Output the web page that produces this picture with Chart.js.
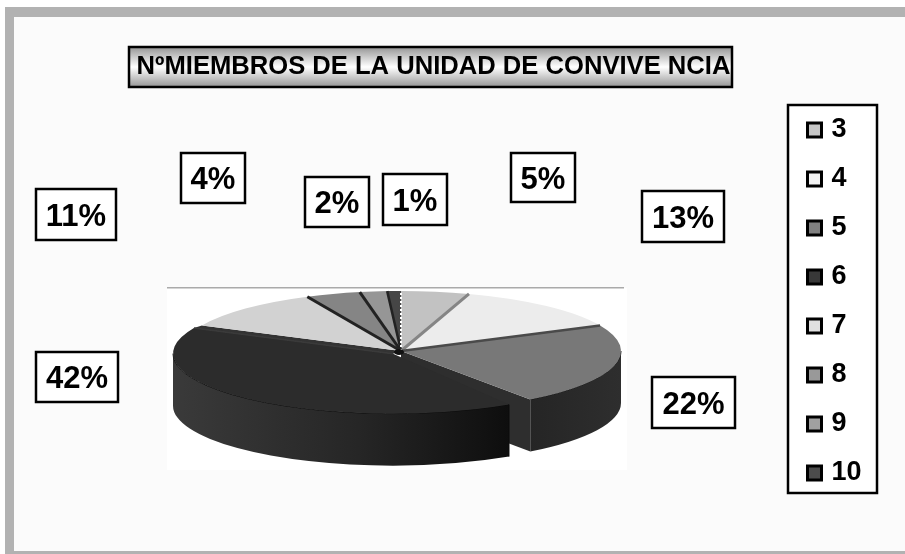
<!DOCTYPE html>
<html><head><meta charset="utf-8">
<style>html,body{margin:0;padding:0;background:#fff}canvas{display:block}</style>
<script src="https://cdn.jsdelivr.net/npm/chart.js@4/dist/chart.umd.js"></script>
</head><body>
<canvas id="c" width="905" height="554"></canvas>
<script>
const CATEGORIES = ['3','4','5','6','7','8','9','10'];
const VALUES = [5,13,22,42,11,4,2,1];
const TITLE = 'NºMIEMBROS DE LA UNIDAD DE CONVIVE NCIA';
const COLORS = ['#c2c2c2','#ececec','#787878','#2c2c2c','#d2d2d2','#858585','#969696','#464646'];
const LEGEND_COLORS = ['#c6c6c6','#f4f4f4','#808080','#383838','#e0e0e0','#999999','#a0a0a0','#4c4c4c'];
const EXPLODE = [0,0,0,0.057,0,0,0,0];
const TRIM_START = [0,0,0,0.073,0,0,0,0];
const SEP_COLOR = ['#858585','#4a4a4a',null,'#3a3a3a','#222222','#222222','#222222','#ffffff'];
const SEP_WIDTH = [3,2.5,0,1.5,3,3,2.5,2];
const LABEL_BOXES = [[511,153,64,49],[642,191,82,51],[652,377,83,51],[36,352,82,50],[36,189,80,51],[181,153,64,50],[305,177,64,50],[383,174,64,51]];
const PIE = {cx:401,cy:351,rx:220,ry:60,depth:52};
const FONT = '"Liberation Sans", Arial, sans-serif';

function shift(i){
  const a = scene.arcs[i]; const mid=(a.startAngle+a.endAngle)/2;
  return {x:Math.cos(mid)*EXPLODE[i]*PIE.rx, y:Math.sin(mid)*EXPLODE[i]*PIE.ry};
}
const scene = {
  id:'scene', arcs:[],
  afterLayout(chart){
    const t = chart.titleBlock, l = chart.legend;
    t.left=131; t.right=736; t.top=52; t.bottom=88; t.width=605;
    l.left=789; l.right=878; l.top=94.5; l.bottom=520; l.width=89;
  },
  beforeDraw(chart){
    const c = chart.ctx;
    c.save();
    c.fillStyle='#ffffff'; c.fillRect(0,0,905,554);
    c.fillStyle='#fbfbfb'; c.fillRect(5,7,900,547);
    c.fillStyle='#b2b2b2';
    c.fillRect(5,7,900,10); c.fillRect(5,7,9,547); c.fillRect(5,551,900,3);
    c.fillStyle='#ffffff'; c.fillRect(167,288,460,182);
    c.fillStyle='#aaaaaa'; c.fillRect(167,287,457,1.5);
    const g=c.createLinearGradient(0,46,0,88);
    g.addColorStop(0,'#909090'); g.addColorStop(.5,'#ffffff'); g.addColorStop(1,'#909090');
    c.fillStyle=g; c.fillRect(129,47,603,40);
    c.strokeStyle='#000'; c.lineWidth=2.5; c.strokeRect(129,47,603,40);
    c.fillStyle='#ffffff'; c.fillRect(788,105,89,388);
    c.lineWidth=2.5; c.strokeRect(788,105,89,388);
    c.restore();
  },
  beforeDatasetDraw(){ return false; },
  beforeDatasetsDraw(chart){
    const c = chart.ctx, arcs = chart.getDatasetMeta(0).data, {cx,cy,rx,ry,depth}=PIE;
    scene.arcs = arcs;
    // walls, rear to front
    arcs.forEach((a,i)=>{
      const s=shift(i), x0=cx+s.x, y0=cy+s.y;
      if (EXPLODE[(i+1)%arcs.length]>0){
        const px=x0+Math.cos(a.endAngle)*rx, py=y0+Math.sin(a.endAngle)*ry;
        c.fillStyle='#2e2e2e'; c.beginPath();
        c.moveTo(x0,y0); c.lineTo(px,py); c.lineTo(px,py+depth); c.lineTo(x0,y0+depth); c.closePath(); c.fill();
      }
      if (EXPLODE[i]>0){
        // dark seam left behind the exploded slice at its far edge
        c.fillStyle='#333333'; c.beginPath();
        c.moveTo(cx,cy); c.lineTo(cx+Math.cos(a.endAngle)*rx,cy+Math.sin(a.endAngle)*ry);
        c.lineTo(x0+Math.cos(a.endAngle)*rx,y0+Math.sin(a.endAngle)*ry); c.lineTo(x0,y0); c.closePath(); c.fill();
      }
      const st=Math.max(a.startAngle+TRIM_START[i],0), en=Math.min(a.endAngle,Math.PI);
      if (en>st){
        const xa=x0+Math.cos(en)*rx, xb=x0+Math.cos(st)*rx;
        const g=c.createLinearGradient(xa,0,xb,0);
        if (EXPLODE[i]>0){ g.addColorStop(0,'#3a3a3a'); g.addColorStop(.55,'#262626'); g.addColorStop(1,'#0e0e0e'); }
        else { g.addColorStop(0,'#252525'); g.addColorStop(1,'#2e2e2e'); }
        c.fillStyle=g; c.beginPath();
        c.ellipse(x0,y0,rx,ry,0,st,en);
        c.ellipse(x0,y0+depth,rx,ry,0,en,st,true);
        c.closePath(); c.fill();
        c.strokeStyle='#0c0c0c'; c.lineWidth=1; c.beginPath();
        c.ellipse(x0,y0,rx,ry,0,st,en); c.stroke();
        if(st>0){ c.beginPath(); c.moveTo(xb,y0+Math.sin(st)*ry); c.lineTo(xb,y0+Math.sin(st)*ry+depth); c.stroke(); }
      }
    });
    // top faces
    arcs.forEach((a,i)=>{
      const s=shift(i), keep=a.startAngle;
      c.save();
      c.translate(cx+s.x,cy+s.y);
      c.scale(rx/a.outerRadius,ry/a.outerRadius);
      c.translate(-a.x,-a.y);
      a.startAngle=keep+TRIM_START[i];
      a.draw(c);
      a.startAngle=keep;
      c.restore();
    });
    // radial seams between faces
    arcs.forEach((a,i)=>{
      if(!SEP_COLOR[i]) return;
      const s=shift(i);
      c.save();
      c.strokeStyle=SEP_COLOR[i]; c.lineWidth=SEP_WIDTH[i];
      if(SEP_COLOR[i]==='#ffffff') c.setLineDash([2,2]);
      c.beginPath(); c.moveTo(cx+s.x,cy+s.y);
      c.lineTo(cx+s.x+Math.cos(a.endAngle)*rx,cy+s.y+Math.sin(a.endAngle)*ry);
      c.stroke(); c.restore();
    });
    c.fillStyle='#111'; c.beginPath(); c.ellipse(cx-2,cy+1,5,3,0,0,Math.PI*2); c.fill();
  },
  afterDatasetsDraw(chart){
    const c=chart.ctx;
    c.save();
    VALUES.forEach((v,i)=>{
      const [x,y,w,h]=LABEL_BOXES[i];
      c.fillStyle='#fff'; c.fillRect(x,y,w,h);
      c.strokeStyle='#000'; c.lineWidth=2.5; c.strokeRect(x,y,w,h);
      c.fillStyle='#000'; c.font='bold 31px '+FONT; c.textAlign='center'; c.textBaseline='middle';
      c.fillText(v+'%',x+w/2,y+h/2+2.5);
    });
    c.restore();
  }
};
new Chart(document.getElementById('c'),{
  type:'pie',
  data:{labels:CATEGORIES,datasets:[{data:VALUES,backgroundColor:COLORS,borderWidth:0}]},
  plugins:[scene],
  options:{
    responsive:false,animation:false,
    layout:{padding:{top:100,bottom:60,left:160,right:10}},
    plugins:{
      tooltip:{enabled:false},
      title:{display:true,text:TITLE,color:'#000',align:'center',padding:0,font:{family:FONT,weight:'bold',size:25.6,lineHeight:1.2}},
      legend:{display:true,position:'right',align:'start',
        labels:{color:'#000',padding:22,boxWidth:7,boxHeight:14,usePointStyle:true,
          font:{family:FONT,weight:'bold',size:27,lineHeight:1},
          generateLabels(ch){
            return Chart.overrides.pie.plugins.legend.labels.generateLabels(ch).map((it,i)=>({...it,fillStyle:LEGEND_COLORS[i],strokeStyle:'#000',lineWidth:3,pointStyle:'rect'}));
          }}}
    }
  }
});
</script>
</body></html>
